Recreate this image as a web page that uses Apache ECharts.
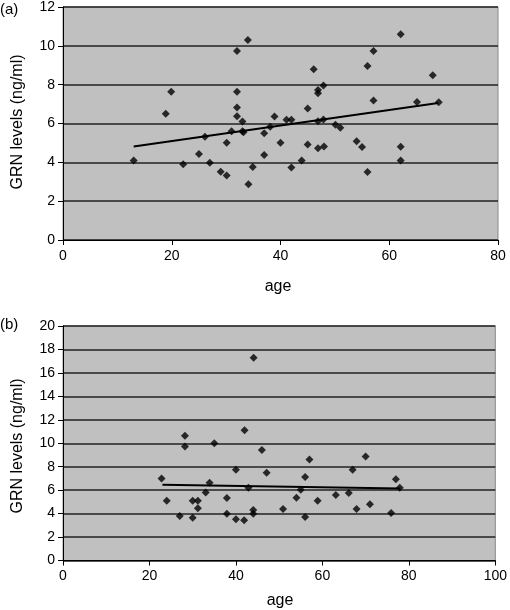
<!DOCTYPE html>
<html>
<head>
<meta charset="utf-8">
<script src="https://cdn.jsdelivr.net/npm/echarts@6/dist/echarts.min.js"></script>
<style>html,body{margin:0;padding:0;background:#fff;}#c{width:510px;height:610px;}</style>
</head>
<body>
<div id="c"></div>
<script>
// Panel (a)
const ageA = [13.0,18.9,19.9,22.1,25.0,26.1,27.0,29.0,30.1,30.1,31.0,32.0,32.0,32.0,32.0,33.0,33.0,33.2,34.0,34.1,34.9,37.0,37.0,38.1,38.9,40.0,41.1,42.0,42.0,43.9,45.0,45.0,46.1,46.9,46.9,46.9,46.9,47.9,47.9,48.0,50.1,51.0,54.0,55.0,56.0,56.0,57.1,57.1,62.1,62.1,62.1,65.1,68.0,69.1];
const grnA = [4.09,6.50,7.64,3.90,4.43,5.32,3.98,3.52,3.32,5.01,5.60,9.73,7.64,6.82,6.37,6.10,5.60,5.55,10.30,2.87,3.76,5.50,4.38,5.83,6.36,5.01,6.19,6.19,3.74,4.10,6.77,4.92,8.79,7.73,7.56,6.12,4.73,7.96,6.20,4.82,5.93,5.78,5.08,4.79,8.96,3.50,9.73,7.18,10.60,4.80,4.10,7.11,8.48,7.09];
const trendAgeA = [13, 69];
const trendGrnA = [4.82, 7.05];
// Panel (b)
const ageB = [22.8,24.0,27.0,28.2,28.2,30.0,30.0,31.2,31.2,33.0,33.9,35.0,37.9,37.9,40.0,40.0,41.9,42.0,42.9,44.0,44.0,44.1,46.0,47.1,50.9,54.0,55.0,56.0,56.0,57.0,58.9,63.1,66.1,67.0,67.9,70.0,71.0,75.9,77.0,77.9];
const grnB = [7.00,5.10,3.80,10.64,9.73,5.10,3.65,5.10,4.45,5.81,6.64,9.99,5.33,3.99,7.74,3.51,3.43,11.10,6.21,4.30,3.99,17.30,9.42,7.49,4.39,5.36,6.04,7.12,3.71,8.62,5.10,5.58,5.75,7.74,4.39,8.88,4.79,4.05,6.92,6.21];
const trendAgeB = [23, 78];
const trendGrnB = [6.45, 6.15];

const xTicksA = {min: 0, max: 80, interval: 20};
const yTicksA = {min: 0, max: 12, interval: 2};
const xTicksB = {min: 0, max: 100, interval: 20};
const yTicksB = {min: 0, max: 20, interval: 2};

const FONT = '"Liberation Sans", Arial, sans-serif';
const zip = (a, b) => a.map((v, i) => [v, b[i]]);

function xAxis(idx, t) {
  return {
    type: 'value', gridIndex: idx, min: t.min, max: t.max, interval: t.interval,
    axisLine: {show: true, lineStyle: {color: '#000', width: 1}},
    axisTick: {show: true, length: 5, lineStyle: {color: '#000'}},
    axisLabel: {color: '#000', fontFamily: FONT, fontSize: 14, margin: 9},
    splitLine: {show: false}
  };
}
function yAxis(idx, t) {
  return {
    type: 'value', gridIndex: idx, min: t.min, max: t.max, interval: t.interval,
    axisLine: {show: true, lineStyle: {color: '#000', width: 1}},
    axisTick: {show: true, length: 5, lineStyle: {color: '#000'}},
    axisLabel: {color: '#000', fontFamily: FONT, fontSize: 14, margin: 8},
    splitLine: {show: true, lineStyle: {color: '#222', width: 1.5}}
  };
}
const chart = echarts.init(document.getElementById('c'), null, {renderer: 'canvas'});
const sym = {symbol: 'diamond', symbolSize: 8, itemStyle: {color: '#000'}};
chart.setOption({
  animation: false,
  backgroundColor: '#fff',
  grid: [
    {left: 63, top: 6, width: 435, height: 234, show: true, backgroundColor: '#c0c0c0', borderColor: '#8a8a8a', borderWidth: 1},
    {left: 63, top: 326, width: 436, height: 234.5, show: true, backgroundColor: '#c0c0c0', borderColor: '#8a8a8a', borderWidth: 1}
  ],
  xAxis: [xAxis(0, xTicksA), xAxis(1, xTicksB)],
  yAxis: [yAxis(0, yTicksA), yAxis(1, yTicksB)],
  series: [
    Object.assign({type: 'scatter', xAxisIndex: 0, yAxisIndex: 0, data: zip(ageA, grnA)}, sym),
    {type: 'line', xAxisIndex: 0, yAxisIndex: 0, data: zip(trendAgeA, trendGrnA), symbol: 'none', lineStyle: {color: '#000', width: 2}},
    Object.assign({type: 'scatter', xAxisIndex: 1, yAxisIndex: 1, data: zip(ageB, grnB)}, sym),
    {type: 'line', xAxisIndex: 1, yAxisIndex: 1, data: zip(trendAgeB, trendGrnB), symbol: 'none', lineStyle: {color: '#000', width: 2}}
  ],
  graphic: [
    {type: 'text', left: 0, top: 2, style: {text: '(a)', font: '15px ' + FONT, fill: '#000'}},
    {type: 'text', left: 0, top: 317, style: {text: '(b)', font: '15px ' + FONT, fill: '#000'}},
    {type: 'text', x: 278, y: 287, style: {text: 'age', font: '16px ' + FONT, fill: '#000', align: 'center', verticalAlign: 'middle'}},
    {type: 'text', x: 280, y: 601, style: {text: 'age', font: '16px ' + FONT, fill: '#000', align: 'center', verticalAlign: 'middle'}},
    {type: 'text', x: 18, y: 122, rotation: Math.PI / 2, style: {text: 'GRN levels (ng/ml)', font: '16px ' + FONT, fill: '#000', align: 'center', verticalAlign: 'middle'}},
    {type: 'text', x: 18, y: 446, rotation: Math.PI / 2, style: {text: 'GRN levels (ng/ml)', font: '16px ' + FONT, fill: '#000', align: 'center', verticalAlign: 'middle'}}
  ]
});
</script>
</body>
</html>
